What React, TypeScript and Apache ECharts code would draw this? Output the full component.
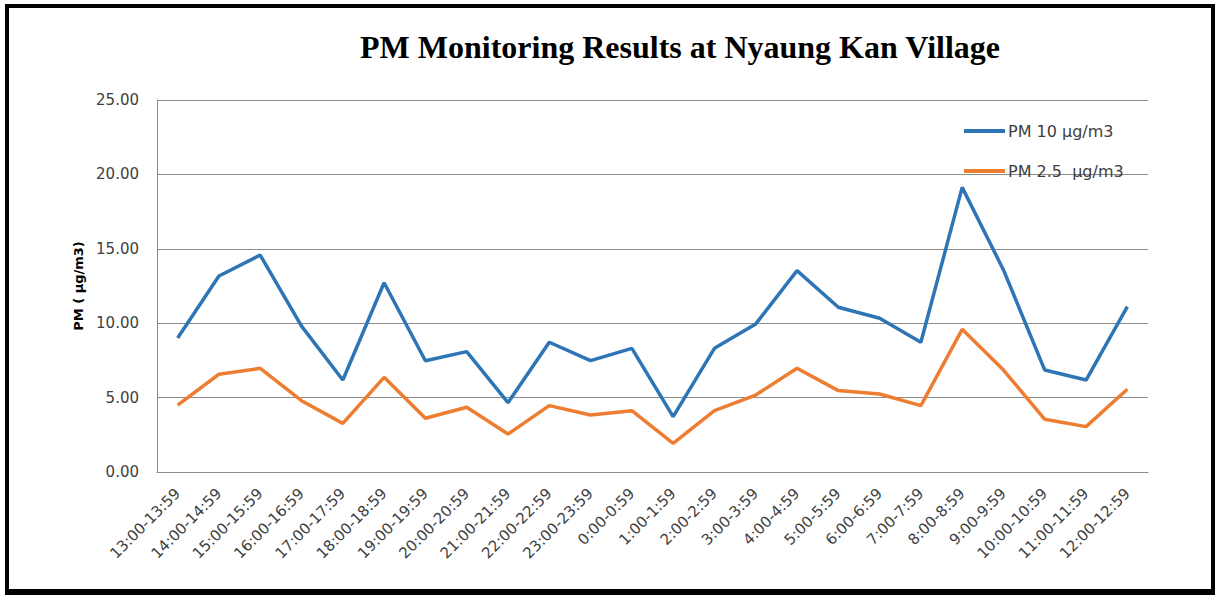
import React, { useEffect, useRef } from "react";
import * as echarts from "echarts";

const categories = [
  "13:00-13:59", "14:00-14:59", "15:00-15:59", "16:00-16:59", "17:00-17:59", "18:00-18:59",
  "19:00-19:59", "20:00-20:59", "21:00-21:59", "22:00-22:59", "23:00-23:59", "0:00-0:59",
  "1:00-1:59", "2:00-2:59", "3:00-3:59", "4:00-4:59", "5:00-5:59", "6:00-6:59",
  "7:00-7:59", "8:00-8:59", "9:00-9:59", "10:00-10:59", "11:00-11:59", "12:00-12:59",
];
const pm10 = [9.0, 13.17, 14.58, 9.8, 6.18, 12.72, 7.48, 8.09, 4.66, 8.72, 7.48, 8.31,
  3.72, 8.31, 9.95, 13.53, 11.07, 10.33, 8.72, 19.13, 13.58, 6.85, 6.18, 11.11];
const pm25 = [4.5, 6.57, 6.97, 4.79, 3.27, 6.36, 3.61, 4.35, 2.55, 4.46, 3.83, 4.12,
  1.93, 4.12, 5.17, 6.97, 5.47, 5.24, 4.46, 9.59, 6.85, 3.54, 3.05, 5.56];
const seriesNames = ["PM 10 µg/m3", "PM 2.5  µg/m3"];
const titleText = "PM Monitoring Results at Nyaung Kan Village";
const yAxisName = "PM ( µg/m3)";

export default function App() {
  const ref = useRef<HTMLDivElement>(null);
  useEffect(() => {
    const chart = echarts.init(ref.current!, null, { renderer: "svg" });
    const gray = "#8c8c8c";
    chart.setOption({
      animation: false,
      backgroundColor: "#ffffff",
      graphic: [
        {
          type: "rect",
          z: -10,
          shape: { x: 7, y: 6, width: 1206, height: 585 },
          style: { fill: "none", stroke: "#000", lineWidth: 4 },
        },
        {
          type: "rect",
          z: -10,
          shape: { x: 5, y: 589, width: 1210, height: 6 },
          style: { fill: "#000" },
        },
        {
          type: "text",
          x: 680,
          y: 47,
          style: {
            text: titleText,
            font: "bold 32px 'Liberation Serif'",
            fill: "#000",
            align: "center",
            verticalAlign: "middle",
          },
        },
      ],
      legend: {
        orient: "vertical",
        left: 959,
        top: 118,
        itemWidth: 41,
        itemHeight: 4,
        itemGap: 24,
        icon: "rect",
        textStyle: { fontFamily: "DejaVu Sans", fontSize: 16, color: "#404040", padding: [0, 0, 0, -2] },
        data: seriesNames,
      },
      grid: { left: 157, top: 100, right: 67, bottom: 127 },
      xAxis: {
        type: "category",
        data: categories,
        boundaryGap: true,
        axisLine: { show: true, lineStyle: { color: gray, width: 1 } },
        axisTick: { show: false },
        axisLabel: {
          interval: 0,
          rotate: 45,
          margin: 19,
          fontFamily: "DejaVu Sans",
          fontSize: 15,
          color: "#404040",
        },
      },
      yAxis: {
        type: "value",
        min: 0,
        max: 25,
        interval: 5,
        name: yAxisName,
        nameLocation: "middle",
        nameGap: 70,
        nameTextStyle: { fontFamily: "DejaVu Sans", fontWeight: "bold", fontSize: 13, color: "#000" },
        axisLine: { show: true, lineStyle: { color: gray, width: 1 } },
        axisTick: { show: false },
        splitLine: { show: true, lineStyle: { color: gray, width: 1 } },
        axisLabel: {
          margin: 18,
          fontFamily: "DejaVu Sans",
          fontSize: 15,
          color: "#404040",
          formatter: (v: number) => v.toFixed(2),
        },
      },
      series: [
        {
          name: seriesNames[0],
          type: "line",
          data: pm10,
          symbol: "none",
          color: "#2e75b6",
          lineStyle: { width: 3.5, color: "#2e75b6" },
        },
        {
          name: seriesNames[1],
          type: "line",
          data: pm25,
          symbol: "none",
          color: "#ed7d31",
          lineStyle: { width: 3.5, color: "#ed7d31" },
        },
      ],
    });
    return () => chart.dispose();
  }, []);
  return (
    <div
      ref={ref}
      style={{ position: "absolute", left: 0, top: 0, width: 1215, height: 599 }}
    />
  );
}
